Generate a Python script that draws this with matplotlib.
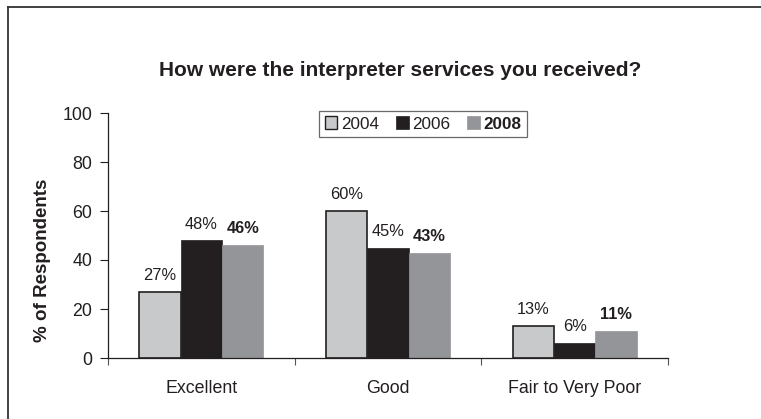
import matplotlib
matplotlib.use("Agg")
import matplotlib.pyplot as plt
from matplotlib.patches import Patch
from matplotlib.lines import Line2D
import numpy as np

plt.rcParams['font.family'] = ['Liberation Sans', 'DejaVu Sans']

categories = ["Excellent", "Good", "Fair to Very Poor"]
years = ["2004", "2006", "2008"]
pct_2004 = [27, 60, 13]
pct_2006 = [48, 45, 6]
pct_2008 = [46, 43, 11]
y_ticks = [0, 20, 40, 60, 80, 100]

ink = "#231f20"
colors = ["#c8c9cb", "#231f20", "#939598"]
edges = [ink, ink, "#939598"]
series = [pct_2004, pct_2006, pct_2008]

fig = plt.figure(figsize=(7.61, 4.19), dpi=100)
ax = fig.add_axes([108 / 761, 1 - 358 / 419, 560 / 761, 245 / 419])

x = np.arange(len(categories))
width = 0.222
for i, (vals, col, ec) in enumerate(zip(series, colors, edges)):
    pos = x + (i - 1) * width
    ax.bar(pos, vals, width, color=col, edgecolor=ec, linewidth=1.2 if i == 0 else 0.5)
    for px, v in zip(pos, vals):
        ax.annotate(f"{v}%", (px, v), xytext=(0, 8.5), textcoords="offset points",
                    ha="center", va="baseline", fontsize=11.8, color=ink,
                    fontweight="bold" if i == 2 else "normal")

ax.set_xlim(-0.5, len(categories) - 0.5)
ax.set_ylim(0, 100)
ax.set_yticks(y_ticks)
ax.tick_params(axis="y", direction="out", length=5.5, width=0.8, pad=6,
               labelsize=12.8, colors=ink)

# category boundaries get tick marks, names sit on minor ticks
ax.set_xticks(np.arange(-0.5, len(categories), 1.0))
ax.set_xticklabels([])
ax.set_xticks(x, minor=True)
ax.set_xticklabels(categories, minor=True)
ax.tick_params(axis="x", which="major", direction="out", length=5, width=0.8, color="#555555")
ax.tick_params(axis="x", which="minor", length=0, pad=16, labelsize=12.8, labelcolor=ink)

for side in ["top", "right"]:
    ax.spines[side].set_visible(False)
for side in ["left", "bottom"]:
    ax.spines[side].set_color(ink)
    ax.spines[side].set_linewidth(0.9)

fig.text(43 / 761, 1 - 260 / 419, "% of Respondents", rotation=90, ha="center", va="center",
         fontsize=13.5, fontweight="bold", color=ink)

fig.text(400 / 761, 1 - 70 / 419, "How were the interpreter services you received?",
         ha="center", va="center", fontsize=15, fontweight="bold", color=ink)

handles = [Patch(facecolor=c, edgecolor=e, linewidth=1.0 if i == 0 else 0.5)
           for i, (c, e) in enumerate(zip(colors, edges))]
leg = fig.legend(handles, years, loc="center", bbox_to_anchor=(423 / 761, 1 - 124 / 419),
                 ncol=3, fontsize=12.3, frameon=True, fancybox=False, edgecolor="#444444",
                 handlelength=0.75, handleheight=0.75, handletextpad=0.2, columnspacing=1.0,
                 borderpad=0.3, labelcolor=ink)
leg.get_frame().set_linewidth(0.9)
leg.get_texts()[2].set_fontweight("bold")

# outer frame: left and top edges only
fig.add_artist(Line2D([8 / 761, 8 / 761], [1 - 7 / 419, 0], transform=fig.transFigure,
                      color="#333333", linewidth=1.3))
fig.add_artist(Line2D([8 / 761, 1], [1 - 7 / 419, 1 - 7 / 419], transform=fig.transFigure,
                      color="#333333", linewidth=1.3))

fig.savefig("out.png", dpi=100, facecolor="white")
